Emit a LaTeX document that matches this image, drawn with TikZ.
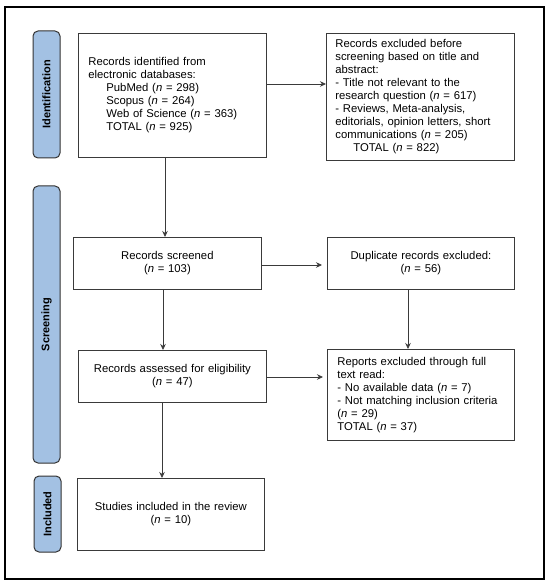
\documentclass[tikz,border=0pt]{standalone}
\usepackage{fontspec}
\setmainfont{Liberation Sans}
\usetikzlibrary{arrows.meta}
\definecolor{boxline}{HTML}{3A3A3A}
\definecolor{pillline}{HTML}{333333}
\definecolor{pillblue}{HTML}{A3C1E3}
\newcommand{\nn}{\textit{n}}
\begin{document}
\begin{tikzpicture}[x=1pt,y=-1pt,
  box/.style={draw=boxline,line width=0.8pt,anchor=north west,inner ysep=0pt,
    font=\fontsize{11.3}{13}\selectfont},
  lbox/.style={box,align=left,inner xsep=#1},
  cbox/.style={box,align=center,inner xsep=0pt},
  pill/.style={draw=pillline,fill=pillblue,rounded corners=5pt,line width=1pt,
    rotate=90,inner sep=0pt,minimum height=27pt,
    font=\fontsize{11}{13}\selectfont\bfseries},
  arr/.style={-{Stealth[length=6pt,width=5.5pt]},line width=0.8pt,draw=boxline}]
\useasboundingbox (0,0) rectangle (550,585);
\draw[line width=1.2pt] (5,7) rectangle (544,579);
% phase labels
\node[pill,minimum width=127pt] (pid) at (46.5,94.5) {Identification};
\node[pill,minimum width=277pt] (psc) at (46.5,324.5) {Screening};
\node[pill,minimum width=76pt] (pin) at (47.5,514) {Included};
% boxes
\node[lbox=10pt,text width=168pt,minimum width=188pt,minimum height=124pt] (b1) at (78,33)
 {Records identified from\\electronic databases:\\
  \hspace*{18pt}PubMed (\nn{} = 298)\\
  \hspace*{18pt}Scopus (\nn{} = 264)\\
  \hspace*{18pt}Web of Science (\nn{} = 363)\\
  \hspace*{18pt}TOTAL (\nn{} = 925)};
\node[lbox=9pt,text width=170pt,minimum width=188pt,minimum height=127pt] (b2) at (326,33)
 {Records excluded before\\screening based on title and\\abstract:\\
  - Title not relevant to the\\research question (\nn{} = 617)\\
  - Reviews, Meta-analysis,\\editorials, opinion letters, short\\
  communications (\nn{} = 205)\\
  \hspace*{18pt}TOTAL (\nn{} = 822)};
\node[cbox,text width=188pt,minimum height=52pt] (scr) at (73,237)
 {Records screened\\(\nn{} = 103)};
\node[cbox,text width=187pt,minimum height=52pt] (dup) at (327,237)
 {Duplicate records excluded:\\(\nn{} = 56)};
\node[cbox,text width=188pt,minimum height=52pt] (ass) at (78,350)
 {Records assessed for eligibility\\(\nn{} = 47)};
\node[lbox=10pt,text width=167pt,minimum width=187pt,minimum height=91pt] (rep) at (327,349)
 {Reports excluded through full\\text read:\\
  - No available data (\nn{} = 7)\\
  - Not matching inclusion criteria\\(\nn{} = 29)\\
  TOTAL (\nn{} = 37)};
\node[cbox,text width=187pt,minimum height=72pt] (inc) at (77,478)
 {Studies included in the review\\(\nn{} = 10)};
% helper coordinates
\coordinate (ya) at (0,84);
\coordinate (yb) at (0,265);
\coordinate (yc) at (0,377);
\coordinate (xa) at (165,0);
\coordinate (xb) at (163,0);
\coordinate (xc) at (408,0);
\coordinate (xd) at (162,0);
% connectors
\draw[arr] (b1.east |- ya) -- (b2.west |- ya);
\draw[arr] (b1.south -| xa) -- (scr.north -| xa);
\draw[arr,shorten >=5pt] (scr.east |- yb) -- (dup.west |- yb);
\draw[arr] (scr.south -| xb) -- (ass.north -| xb);
\draw[arr] (dup.south -| xc) -- (rep.north -| xc);
\draw[arr,shorten >=4pt] (ass.east |- yc) -- (rep.west |- yc);
\draw[arr] (ass.south -| xd) -- (inc.north -| xd);
\end{tikzpicture}
\end{document}
